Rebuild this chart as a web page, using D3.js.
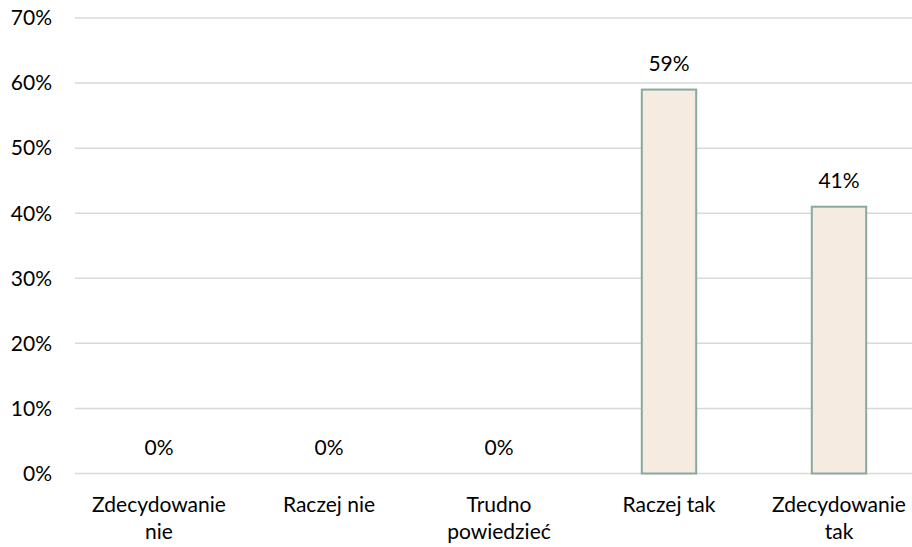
<!DOCTYPE html>
<html>
<head>
<meta charset="utf-8">
<script src="https://cdn.jsdelivr.net/npm/d3@7"></script>
<style>
  body { margin: 0; background: #fff; }
  svg text { font-family: Lato, "Open Sans", sans-serif; fill: #000; }
</style>
</head>
<body>
<div id="chart"></div>
<script>
const categories = [["Zdecydowanie", "nie"], ["Raczej nie"], ["Trudno", "powiedzieć"], ["Raczej tak"], ["Zdecydowanie", "tak"]];
const values = [0, 0, 0, 59, 41];
const yTicks = [0, 10, 20, 30, 40, 50, 60, 70];

const width = 912, height = 547;
const fontSize = 21;
const svg = d3.select('#chart').append('svg')
    .attr('width', width)
    .attr('height', height);

const x = d3.scaleBand()
    .domain(d3.range(categories.length))
    .range([74, 924])
    .paddingInner(0.68)
    .paddingOuter(0.34);

const y = d3.scaleLinear()
    .domain([0, 70])
    .range([473.5, 18]);

// gridlines
svg.append('g')
    .selectAll('line')
    .data(yTicks)
    .join('line')
    .attr('x1', 75)
    .attr('x2', width)
    .attr('y1', d => y(d))
    .attr('y2', d => y(d))
    .attr('stroke', '#d9d9d9')
    .attr('stroke-width', 1.5);

// y labels
svg.append('g')
    .selectAll('text')
    .data(yTicks)
    .join('text')
    .attr('x', 52)
    .attr('y', d => y(d))
    .attr('dy', '0.35em')
    .attr('text-anchor', 'end')
    .attr('font-size', fontSize)
    .text(d => d + '%');

// bars
svg.append('g')
    .selectAll('rect')
    .data(values)
    .join('rect')
    .attr('x', (d, i) => x(i))
    .attr('y', d => y(d))
    .attr('width', x.bandwidth())
    .attr('height', d => y(0) - y(d))
    .attr('fill', '#f5ebe1')
    .attr('stroke', d => d > 0 ? '#8aa99d' : 'none')
    .attr('stroke-width', 2);

// value labels
svg.append('g')
    .selectAll('text')
    .data(values)
    .join('text')
    .attr('x', (d, i) => x(i) + x.bandwidth() / 2)
    .attr('y', d => y(d) - 19)
    .attr('text-anchor', 'middle')
    .attr('font-size', fontSize)
    .text(d => d + '%');

// category labels
const cat = svg.append('g')
    .selectAll('text')
    .data(categories)
    .join('text')
    .attr('text-anchor', 'middle')
    .attr('font-size', fontSize);

cat.selectAll('tspan')
    .data((d, i) => d.map(t => ({t, i})))
    .join('tspan')
    .attr('x', d => x(d.i) + x.bandwidth() / 2)
    .attr('y', (d, j) => 512 + j * 27)
    .text(d => d.t);
</script>
</body>
</html>
